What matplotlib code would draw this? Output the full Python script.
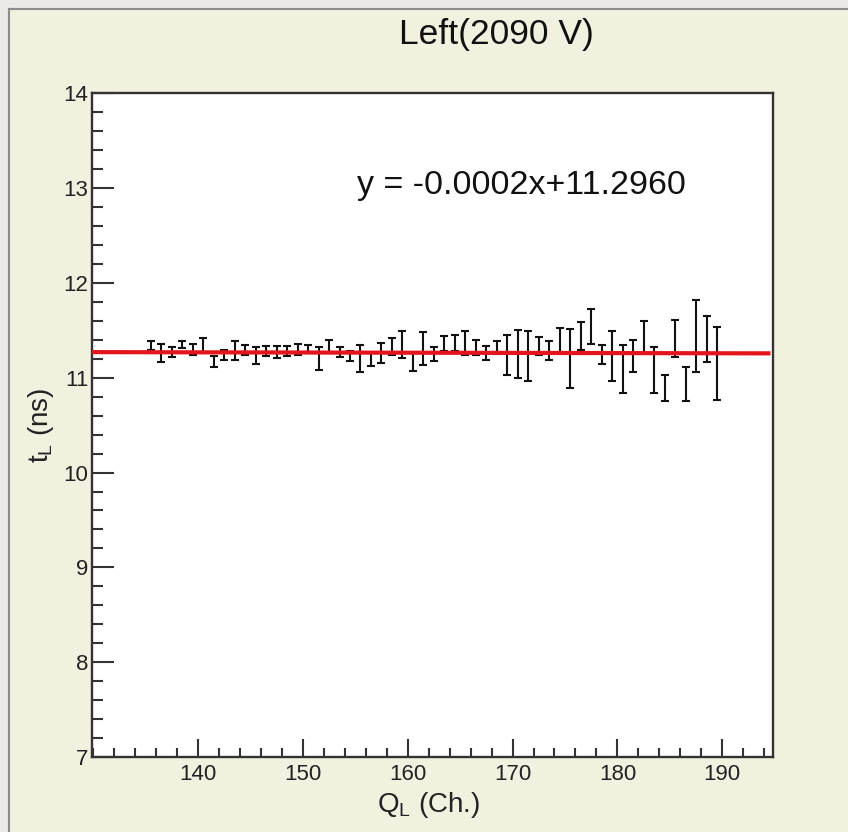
"""Time vs charge scatter with linear fit (Left PMT, 2090 V)."""

import matplotlib
matplotlib.use('Agg')
import matplotlib.pyplot as plt
from matplotlib.patches import Rectangle
from matplotlib.ticker import MultipleLocator
import numpy as np

plt.rcParams['font.family'] = ['Liberation Sans', 'DejaVu Sans']

# Data: bin centres, mean time and its error
q_ch = np.arange(135.5, 190.0, 1.0)
t_ns = [11.34, 11.26, 11.27, 11.35, 11.30, 11.34, 11.17, 11.24, 11.29, 11.29,
        11.23, 11.28, 11.27, 11.28, 11.30, 11.31, 11.20, 11.33, 11.27,
        11.23, 11.20, 11.19, 11.26, 11.33, 11.35, 11.17, 11.31, 11.25, 11.36,
        11.37, 11.37, 11.32, 11.26, 11.32, 11.24, 11.25, 11.23, 11.33,
        11.29, 11.40, 11.20, 11.44, 11.54, 11.24, 11.23, 11.09, 11.23, 11.43,
        11.08, 10.89, 11.41, 10.93, 11.44, 11.41, 11.15]
t_err = [0.05, 0.095, 0.055, 0.04, 0.055, 0.08, 0.06, 0.05, 0.10, 0.05,
         0.09, 0.055, 0.06, 0.055, 0.06, 0.04, 0.12, 0.065, 0.05,
         0.055, 0.14, 0.07, 0.105, 0.085, 0.145, 0.095, 0.175, 0.07, 0.075,
         0.085, 0.125, 0.075, 0.075, 0.07, 0.215, 0.255, 0.26, 0.095,
         0.10, 0.125, 0.31, 0.15, 0.185, 0.10, 0.26, 0.255, 0.165, 0.165,
         0.245, 0.14, 0.195, 0.18, 0.38, 0.24, 0.385]

# Fit parameters
slope = -0.0002
intercept = 11.2960
fit_range = [130.0, 194.4]

x_lim = (129.9, 194.8)
y_lim = (7, 14)
x_major = [140, 150, 160, 170, 180, 190]
y_major = [7, 8, 9, 10, 11, 12, 13, 14]

fig = plt.figure(figsize=(8.48, 8.32), dpi=100)
fig.patch.set_facecolor('#F2F0DF')
# grey frame strip at top and left
fig.patches.append(Rectangle((0, 0.9905), 1, 0.0095, transform=fig.transFigure,
                             facecolor='#ECEAE6', edgecolor='none', zorder=0))
fig.patches.append(Rectangle((0, 0), 0.0095, 1, transform=fig.transFigure,
                             facecolor='#ECEAE6', edgecolor='none', zorder=0))
fig.lines.append(plt.Line2D([0.0105, 0.0105], [0, 0.9895], transform=fig.transFigure,
                            color='#8C8C8C', lw=1.5))
fig.lines.append(plt.Line2D([0.0105, 1], [0.9895, 0.9895], transform=fig.transFigure,
                            color='#8C8C8C', lw=1.5))

axes = fig.add_axes([0.1085, 0.0901, 0.8026, 0.7978])
axes.set_facecolor('white')

# Plot points
axes.errorbar(q_ch, t_ns, yerr=t_err, fmt='none', ecolor='#111111',
              elinewidth=1.5, capsize=3.2, capthick=1.5, zorder=2)

# Plot fit
fit_x = np.array(fit_range)
axes.plot(fit_x, slope * fit_x + intercept, color='#E3141B', lw=3.0, zorder=3)

axes.text(155.2, 13.03, f'y = {slope:.4f}x+{intercept:.4f}', fontsize=24.5,
          ha='left', va='center', color='#111111')

# Appearance
axes.set_xlim(*x_lim)
axes.set_ylim(*y_lim)
axes.set_xticks(x_major)
axes.set_yticks(y_major)
axes.xaxis.set_minor_locator(MultipleLocator(2))
axes.yaxis.set_minor_locator(MultipleLocator(0.2))
axes.tick_params(axis='both', which='both', direction='in', color='#333333',
                 width=1.5, labelsize=16, labelcolor='#222222',
                 top=False, right=False)
axes.tick_params(axis='y', which='major', length=16, pad=2.5)
axes.tick_params(axis='y', which='minor', length=8)
axes.tick_params(axis='x', which='major', length=13, pad=5)
axes.tick_params(axis='x', which='minor', length=6.5)
for spine in axes.spines.values():
    spine.set_color('#333333')
    spine.set_linewidth(1.7)

fig.text(0.586, 0.958, 'Left(2090 V)', fontsize=25.5, ha='center', va='center',
         color='#111111')
fig.text(0.505, 0.032, r'Q$_\mathregular{L}$ (Ch.)', fontsize=20,
         ha='center', va='center', color='#222222')
fig.text(0.048, 0.489, r't$_\mathregular{L}$ (ns)', fontsize=20, rotation=90,
         ha='center', va='center', color='#222222')

fig.savefig('out.png', dpi=100, facecolor=fig.get_facecolor())
plt.close(fig)
